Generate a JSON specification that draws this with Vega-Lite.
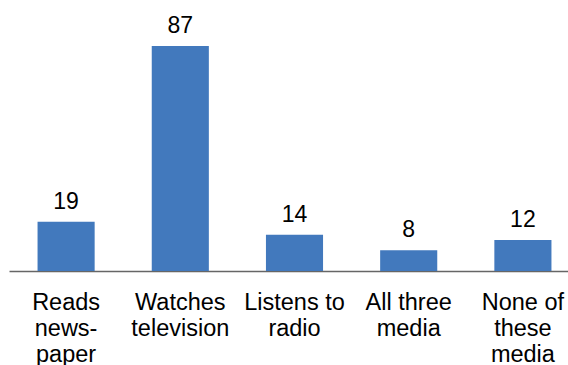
{
  "$schema": "https://vega.github.io/schema/vega-lite/v6.json",
  "autosize": {"type": "none"},
  "padding": {"left": 9, "top": 46, "right": 0, "bottom": 94},
  "width": 571,
  "height": 225,
  "background": "white",
  "config": {"view": {"stroke": null}, "font": "Liberation Sans"},
  "data": {
    "values": [
      {"category": "Reads|news-|paper", "value": 19},
      {"category": "Watches|television", "value": 87},
      {"category": "Listens to|radio", "value": 14},
      {"category": "All three|media", "value": 8},
      {"category": "None of|these|media", "value": 12}
    ]
  },
  "encoding": {
    "x": {
      "field": "category",
      "type": "nominal",
      "sort": null,
      "scale": {"paddingInner": 0.5, "paddingOuter": 0.25},
      "axis": {
        "title": null,
        "labelAngle": 0,
        "labelExpr": "split(datum.label, '|')",
        "labelFont": "Liberation Sans",
        "labelFontSize": 23.5,
        "labelColor": "#000000",
        "labelLineHeight": 26,
        "labelBaseline": "top",
        "labelPadding": 19,
        "ticks": false,
        "domainColor": "#666666",
        "domainWidth": 1.3,
        "labelLimit": 0
      }
    },
    "y": {
      "field": "value",
      "type": "quantitative",
      "scale": {"domain": [0, 87], "nice": false},
      "axis": null
    }
  },
  "layer": [
    {"mark": {"type": "bar", "color": "#4279bd"}},
    {
      "mark": {"type": "text", "baseline": "alphabetic", "dy": -13, "fontSize": 23, "font": "Liberation Sans", "color": "#000000"},
      "encoding": {"text": {"field": "value", "type": "quantitative"}}
    }
  ]
}
